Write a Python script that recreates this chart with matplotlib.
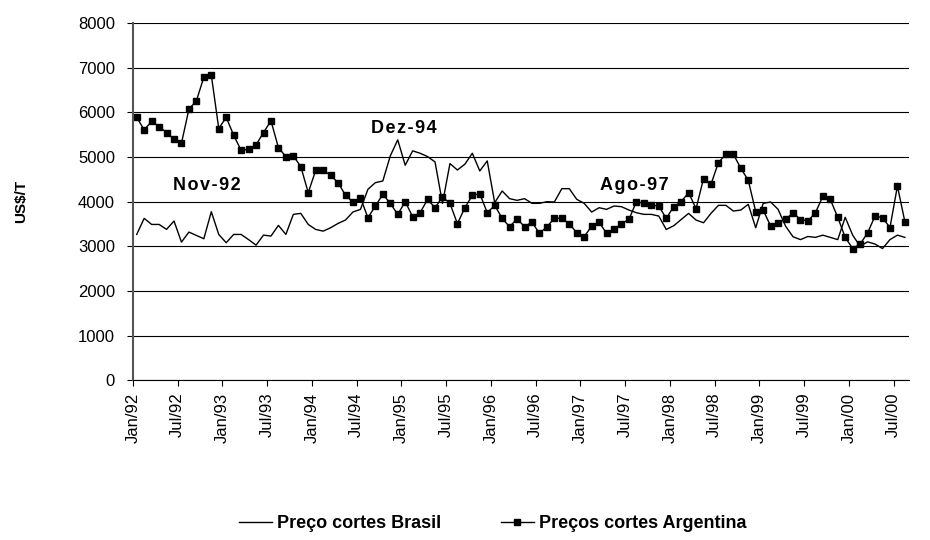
import matplotlib.pyplot as plt
import numpy as np

plt.rcParams['font.family'] = ['Liberation Sans', 'DejaVu Sans']

# Preço cortes Brasil (US$/T), mensal Jan/92 - Ago/00
brasil = [3266, 3626, 3490, 3490, 3380, 3566, 3094, 3319, 3244, 3169, 3775, 3266,
          3080, 3266, 3266, 3150, 3026, 3251, 3229, 3469, 3266, 3716, 3738, 3490,
          3378, 3340, 3416, 3513, 3590, 3770, 3828, 4277, 4427, 4464, 5026, 5386,
          4817, 5139, 5086, 5011, 4891, 3963, 4854, 4710, 4840, 5086, 4689, 4914,
          3978, 4240, 4068, 4030, 4068, 3963, 3963, 4000, 3993, 4292, 4292, 4053,
          3963, 3768, 3865, 3828, 3903, 3888, 3813, 3753, 3716, 3716, 3678, 3378,
          3460, 3600, 3738, 3588, 3528, 3738, 3918, 3918, 3790, 3813, 3940, 3416,
          3963, 3993, 3828, 3453, 3214, 3150, 3220, 3200, 3250, 3200, 3150, 3650,
          3250, 3000, 3100, 3050, 2950, 3150, 3250, 3200]

# Preços cortes Argentina (US$/T)
argentina = [5890, 5610, 5800, 5685, 5550, 5400, 5310, 6075, 6260, 6790, 6840, 5640,
             5890, 5490, 5150, 5176, 5273, 5550, 5813, 5213, 5011, 5026, 4787, 4202,
             4704, 4704, 4592, 4427, 4142, 3990, 4090, 3640, 3903, 4165, 3963, 3715,
             4000, 3663, 3753, 4052, 3865, 4105, 3963, 3506, 3865, 4142, 4180, 3753,
             3918, 3626, 3438, 3618, 3438, 3543, 3289, 3438, 3626, 3626, 3506, 3304,
             3214, 3453, 3543, 3289, 3378, 3506, 3603, 4000, 3963, 3925, 3903, 3626,
             3888, 4000, 4202, 3843, 4517, 4390, 4877, 5064, 5064, 4749, 4480, 3776,
             3813, 3453, 3528, 3603, 3753, 3600, 3570, 3750, 4120, 4050, 3650, 3200,
             2950, 3050, 3300, 3680, 3640, 3420, 4350, 3550]

tick_labels = ['Jan/92', 'Jul/92', 'Jan/93', 'Jul/93', 'Jan/94', 'Jul/94', 'Jan/95',
               'Jul/95', 'Jan/96', 'Jul/96', 'Jan/97', 'Jul/97', 'Jan/98', 'Jul/98',
               'Jan/99', 'Jul/99', 'Jan/00', 'Jul/00']

x = np.arange(len(brasil))

fig = plt.figure(figsize=(9.3, 5.4), dpi=100)
ax = fig.add_axes([0.143, 0.296, 0.834, 0.661])

ax.plot(x, brasil, color='black', linewidth=1, label='Preço cortes Brasil')
ax.plot(x, argentina, color='black', linewidth=1, marker='s', markersize=4.5,
        label='Preços cortes Argentina')

ax.set_xlim(-0.5, len(x) - 0.5)
ax.set_ylim(0, 8000)
ax.set_yticks(range(0, 8001, 1000))
ax.yaxis.grid(True, color='black', linewidth=0.8)
ax.set_axisbelow(True)

ax.set_xticks(np.arange(0, len(x), 6) - 0.5)
ax.set_xticklabels(tick_labels, rotation=90, fontsize=12)
ax.tick_params(axis='y', labelsize=12, pad=9)
ax.tick_params(axis='x', pad=5)
ax.tick_params(direction='out', length=4, width=0.8)

for s in ['top', 'right']:
    ax.spines[s].set_visible(False)
ax.spines['left'].set_color('#555555')
ax.spines['left'].set_linewidth(1.5)

ax.set_ylabel('US$/T', fontsize=11, fontweight='bold', labelpad=36)

# Anotações (com espaçamento entre letras)
def espacado(t):
    return '\u200a'.join(t)

ax.text(9.4, 4370, espacado('Nov-92'), ha='center', va='center', fontsize=13, fontweight='bold')
ax.text(35.8, 5650, espacado('Dez-94'), ha='center', va='center', fontsize=13, fontweight='bold')
ax.text(66.7, 4370, espacado('Ago-97'), ha='center', va='center', fontsize=13, fontweight='bold')

fig.legend(loc='lower center', bbox_to_anchor=(0.53, -0.015), ncol=2, frameon=False,
           prop={'weight': 'bold', 'size': 13}, handlelength=1.8, handletextpad=0.3,
           columnspacing=3.3)

fig.savefig('out.png', dpi=100)
